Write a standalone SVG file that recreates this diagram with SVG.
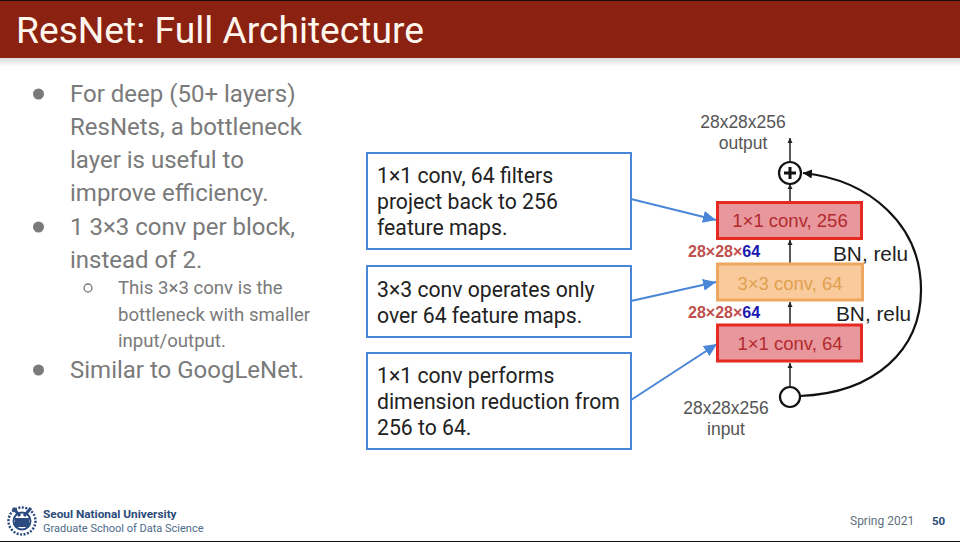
<svg xmlns="http://www.w3.org/2000/svg" width="960" height="542" viewBox="0 0 960 542">
<defs>
<linearGradient id="sh" x1="0" y1="0" x2="0" y2="1"><stop offset="0" stop-color="#000" stop-opacity=".14"/><stop offset="1" stop-color="#000" stop-opacity="0"/></linearGradient>
<marker id="bl" markerUnits="userSpaceOnUse" markerWidth="14" markerHeight="12" refX="13" refY="6" orient="auto"><path d="M0 0L13 6L0 12Z" fill="#4a86d8"/></marker>
<marker id="bk" markerUnits="userSpaceOnUse" markerWidth="6" markerHeight="6" refX="5" refY="3" orient="auto"><path d="M0 0.5L5 3L0 5.5Z" fill="#222"/></marker>
<marker id="bk2" markerUnits="userSpaceOnUse" markerWidth="10" markerHeight="10" refX="9" refY="5" orient="auto"><path d="M0 0.5L9 5L0 9.5Z" fill="#111"/></marker>
</defs>
<style>
text{font-family:Roboto,"Liberation Sans",sans-serif}
.b{font-size:24px;fill:#7a7a7a}
.s{font-size:18.6px;fill:#7a7a7a}
.c{font-size:21.2px;fill:#222}
.box{fill:#fff;stroke:#4a86d8;stroke-width:2}
.d{font-family:"Liberation Sans",sans-serif;font-size:17.5px;fill:#555;text-anchor:middle}
.l{font-family:"Liberation Sans",sans-serif;font-size:18.5px;text-anchor:middle}
.n{font-family:"Liberation Sans",sans-serif;font-size:16px;font-weight:700;fill:#c0504d}
.e{font-family:"Liberation Sans",sans-serif;font-size:20.8px;fill:#222}
.v{stroke:#222;stroke-width:1.5;fill:none;marker-end:url(#bk)}
</style>
<rect width="960" height="542" fill="#fff"/>
<g id="header">
<rect width="960" height="58" fill="#8b2110"/>
<rect width="960" height="1" fill="#1a0a08"/>
<rect y="58" width="960" height="9" fill="url(#sh)"/>
<text x="16" y="43" font-size="37.2" fill="#fff7ee">ResNet: Full Architecture</text>
</g>
<g id="bullets">
<circle cx="38.500" cy="94" r="5.500" fill="#7a7a7a"/>
<text class="b" x="70" y="102">For deep (50+ layers)</text>
<text class="b" x="70" y="135">ResNets, a bottleneck</text>
<text class="b" x="70" y="168">layer is useful to</text>
<text class="b" x="70" y="201">improve efficiency.</text>
<circle cx="38.500" cy="227" r="5.500" fill="#7a7a7a"/>
<text class="b" x="70" y="235">1 3×3 conv per block,</text>
<text class="b" x="70" y="268">instead of 2.</text>
<circle cx="88" cy="288" r="4" fill="none" stroke="#7a7a7a" stroke-width="1.300"/>
<text class="s" x="118" y="294">This 3×3 conv is the</text>
<text class="s" x="118" y="321">bottleneck with smaller</text>
<text class="s" x="118" y="347">input/output.</text>
<circle cx="38.500" cy="370" r="5.500" fill="#7a7a7a"/>
<text class="b" x="70" y="378">Similar to GoogLeNet.</text>
</g>
<g id="callout-top">
<rect class="box" x="367" y="153" width="264" height="96"/>
<text class="c" x="377" y="183">1×1 conv, 64 filters</text>
<text class="c" x="377" y="209">project back to 256</text>
<text class="c" x="377" y="235">feature maps.</text>
</g>
<g id="callout-mid">
<rect class="box" x="367" y="266" width="264" height="71"/>
<text class="c" x="377" y="297">3×3 conv operates only</text>
<text class="c" x="377" y="323">over 64 feature maps.</text>
</g>
<g id="callout-bot">
<rect class="box" x="367" y="353" width="264" height="96"/>
<text class="c" x="377" y="383">1×1 conv performs</text>
<text class="c" x="377" y="409">dimension reduction from</text>
<text class="c" x="377" y="435">256 to 64.</text>
</g>
<g id="connectors">
<path d="M631 199L716 220" stroke="#4a86d8" stroke-width="2" fill="none" marker-end="url(#bl)"/>
<path d="M631 301L716 282" stroke="#4a86d8" stroke-width="2" fill="none" marker-end="url(#bl)"/>
<path d="M631 400L717 344" stroke="#4a86d8" stroke-width="2" fill="none" marker-end="url(#bl)"/>
<path class="v" d="M790 386V363"/>
<path class="v" d="M790 324V302"/>
<path class="v" d="M790 263V240"/>
<path class="v" d="M790 201V184"/>
<path class="v" d="M790 161V138"/>
<path d="M800 396C875 393 921 350 921 290C921 225 870 180 803 173" stroke="#111" stroke-width="2.200" fill="none" marker-end="url(#bk2)"/>
</g>
<g id="output-label">
<text class="d" x="743" y="128">28x28x256</text>
<text class="d" x="743" y="149">output</text>
</g>
<g id="add">
<circle cx="790" cy="173" r="11" fill="#fff" stroke="#111" stroke-width="2.200"/>
<path d="M784 173H796M790 167V179" stroke="#111" stroke-width="3"/>
</g>
<g id="conv-256">
<rect x="717.500" y="202.500" width="144" height="36" fill="#e8979c" stroke="#e62a22" stroke-width="3"/>
<text class="l" x="790" y="227" fill="#b32a2e">1×1 conv, 256</text>
</g>
<g id="conv-3x3">
<rect x="717.500" y="264" width="145" height="36" fill="#f9cb9c" stroke="#eda75e" stroke-width="3"/>
<text class="l" x="790" y="290" fill="#e0a050">3×3 conv, 64</text>
</g>
<g id="conv-64">
<rect x="717.500" y="325" width="144" height="36" fill="#e8979c" stroke="#e62a22" stroke-width="3"/>
<text class="l" x="790" y="350" fill="#b32a2e">1×1 conv, 64</text>
</g>
<g id="dims-upper"><text class="n" x="688" y="257">28×28×<tspan fill="#1a1ab0">64</tspan></text></g>
<g id="dims-lower"><text class="n" x="688" y="318">28×28×<tspan fill="#1a1ab0">64</tspan></text></g>
<g id="bn-upper"><text class="e" x="833" y="261">BN, relu</text></g>
<g id="bn-lower"><text class="e" x="836" y="321">BN, relu</text></g>
<g id="input">
<circle cx="790" cy="397" r="10" fill="#fff" stroke="#111" stroke-width="2.200"/>
<text class="d" x="726" y="414">28x28x256</text>
<text class="d" x="726" y="435">input</text>
</g>
<g id="footer">
<g fill="none" stroke="#2b4a80">
<circle cx="22" cy="521" r="13.500" stroke-width="2.500" stroke-dasharray="2 1.500"/>
<circle cx="22" cy="521" r="8.500" stroke-width="2"/>
</g>
<rect x="15" y="518" width="14" height="9" fill="#2b4a80"/>
<path d="M13 508L20 516M31 508L24 516" stroke="#2b4a80" stroke-width="3"/>
<text x="43" y="518" font-family="'Noto Sans',sans-serif" font-size="11.800" font-weight="700" fill="#2b4a7a">Seoul National University</text>
<text x="43" y="532" font-family="'Noto Sans',sans-serif" font-size="11" fill="#4d6a8a">Graduate School of Data Science</text>
<text x="850" y="525" font-family="'Noto Sans',sans-serif" font-size="12" fill="#5f6f80">Spring 2021</text>
<text x="932" y="525" font-family="'Noto Sans',sans-serif" font-size="11.500" font-weight="700" fill="#2b4a7a">50</text>
<rect y="541" width="960" height="1" fill="#111"/>
</g>
</svg>
